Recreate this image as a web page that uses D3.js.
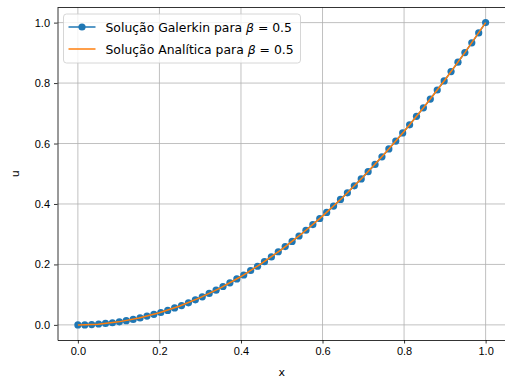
<!DOCTYPE html>
<html>
<head>
<meta charset="utf-8">
<script src="https://cdn.jsdelivr.net/npm/d3@7"></script>
<style>
  body { margin: 0; background: #fff; }
  svg { display: block; font-family: "DejaVu Sans", sans-serif; }
  .tick text { font-size: 11px; fill: #000; }
</style>
</head>
<body>
<svg id="chart"></svg>
<script>
// Galerkin nodes (60 points in [0,1]) and values
var nNodes = 60;
var xGalerkin = d3.range(nNodes).map(function(i) { return i / (nNodes - 1); });
var uGalerkin = [0.000, 0.000, 0.001, 0.003, 0.005, 0.007, 0.010, 0.014, 0.018, 0.023,
                 0.029, 0.035, 0.041, 0.048, 0.056, 0.064, 0.073, 0.083, 0.093, 0.104,
                 0.115, 0.127, 0.139, 0.152, 0.165, 0.180, 0.194, 0.209, 0.225, 0.242,
                 0.259, 0.276, 0.294, 0.313, 0.332, 0.352, 0.372, 0.393, 0.415, 0.437,
                 0.460, 0.483, 0.507, 0.531, 0.556, 0.582, 0.608, 0.635, 0.662, 0.690,
                 0.718, 0.747, 0.777, 0.807, 0.838, 0.869, 0.901, 0.933, 0.966, 1.000];

// analytic solution, sampled every 0.05
var xAnalitica = [0, 0.05, 0.1, 0.15, 0.2, 0.25, 0.3, 0.35, 0.4, 0.45, 0.5,
                  0.55, 0.6, 0.65, 0.7, 0.75, 0.8, 0.85, 0.9, 0.95, 1];
var uAnalitica = [0, 0.0025, 0.01, 0.0225, 0.04, 0.0625, 0.09, 0.1225, 0.16, 0.2025, 0.25,
                  0.3025, 0.36, 0.4225, 0.49, 0.5625, 0.64, 0.7225, 0.81, 0.9025, 1];

var xTicks = [0, 0.2, 0.4, 0.6, 0.8, 1.0];
var yTicks = [0, 0.2, 0.4, 0.6, 0.8, 1.0];
var legendLabels = ["Galerkin", "Analítica"];
var beta = 0.5;

var width = 505;
var height = 378;
var margin = {top: 7.5, left: 57.5, right: -1, bottom: 38};

var blue = "#1f77b4";
var orange = "#ff7f0e";

var svg = d3.select("#chart")
    .attr("width", width)
    .attr("height", height);

var x = d3.scaleLinear()
    .domain([-0.05, 1.05])
    .range([margin.left, width - margin.right]);

var y = d3.scaleLinear()
    .domain([-0.05, 1.05])
    .range([height - margin.bottom, margin.top]);

// grid
svg.append("g")
    .selectAll("line.gx")
    .data(xTicks)
    .enter().append("line")
    .attr("x1", function(d) { return x(d); })
    .attr("x2", function(d) { return x(d); })
    .attr("y1", y.range()[0])
    .attr("y2", y.range()[1])
    .attr("stroke", "#b0b0b0")
    .attr("stroke-width", 0.8);

svg.append("g")
    .selectAll("line.gy")
    .data(yTicks)
    .enter().append("line")
    .attr("y1", function(d) { return y(d); })
    .attr("y2", function(d) { return y(d); })
    .attr("x1", x.range()[0])
    .attr("x2", x.range()[1])
    .attr("stroke", "#b0b0b0")
    .attr("stroke-width", 0.8);

// Galerkin line + markers
var line = d3.line()
    .x(function(d) { return x(d[0]); })
    .y(function(d) { return y(d[1]); });

svg.append("path")
    .datum(d3.zip(xGalerkin, uGalerkin))
    .attr("d", line)
    .attr("fill", "none")
    .attr("stroke", blue)
    .attr("stroke-width", 1.5);

svg.append("g")
    .selectAll("circle")
    .data(d3.zip(xGalerkin, uGalerkin))
    .enter().append("circle")
    .attr("cx", function(d) { return x(d[0]); })
    .attr("cy", function(d) { return y(d[1]); })
    .attr("r", 3.6)
    .attr("fill", blue);

// analytic line
svg.append("path")
    .datum(d3.zip(xAnalitica, uAnalitica))
    .attr("d", line)
    .attr("fill", "none")
    .attr("stroke", orange)
    .attr("stroke-width", 1.5);

// axes
var xAxis = svg.append("g")
    .attr("transform", `translate(0,${y.range()[0]})`)
    .call(d3.axisBottom(x).tickValues(xTicks).tickFormat(d3.format(".1f"))
        .tickSizeInner(3.5).tickSizeOuter(0).tickPadding(4));

var yAxis = svg.append("g")
    .attr("transform", `translate(${x.range()[0]},0)`)
    .call(d3.axisLeft(y).tickValues(yTicks).tickFormat(d3.format(".1f"))
        .tickSizeInner(3.5).tickSizeOuter(0).tickPadding(4));

xAxis.select(".domain").attr("stroke-width", 0.8);
yAxis.select(".domain").attr("stroke-width", 0.8);
xAxis.selectAll(".tick line").attr("stroke-width", 0.8);
yAxis.selectAll(".tick line").attr("stroke-width", 0.8);

// top spine
svg.append("line")
    .attr("x1", x.range()[0]).attr("x2", x.range()[1])
    .attr("y1", y.range()[1]).attr("y2", y.range()[1])
    .attr("stroke", "#000").attr("stroke-width", 0.8);

svg.append("text")
    .attr("x", x(0.5))
    .attr("y", 376)
    .attr("text-anchor", "middle")
    .attr("font-size", 11)
    .text("x");

svg.append("text")
    .attr("transform", `translate(19,${y(0.5)}) rotate(-90)`)
    .attr("text-anchor", "middle")
    .attr("font-size", 11)
    .text("u");

// legend
var legend = svg.append("g").attr("transform", "translate(63.5,14)");

legend.append("rect")
    .attr("width", 237)
    .attr("height", 49)
    .attr("rx", 3)
    .attr("fill", "#fff")
    .attr("fill-opacity", 0.8)
    .attr("stroke", "#cccccc")
    .attr("stroke-width", 0.8);

var items = legend.selectAll("g.item")
    .data(legendLabels)
    .enter().append("g")
    .attr("transform", function(d, i) { return `translate(0,${13 + i * 22})`; });

items.append("line")
    .attr("x1", 5).attr("x2", 32)
    .attr("stroke", function(d, i) { return i === 0 ? blue : orange; })
    .attr("stroke-width", 1.5);

items.filter(function(d, i) { return i === 0; })
    .append("circle")
    .attr("cx", 18.5).attr("r", 3.6).attr("fill", blue);

var lt = items.append("text")
    .attr("x", 42)
    .attr("y", 4.5)
    .attr("font-size", 12.4);
lt.append("tspan").text(function(d) { return "Solução " + d + " para "; });
lt.append("tspan").attr("font-style", "italic").text("β");
lt.append("tspan").text(" = " + beta);
</script>
</body>
</html>
